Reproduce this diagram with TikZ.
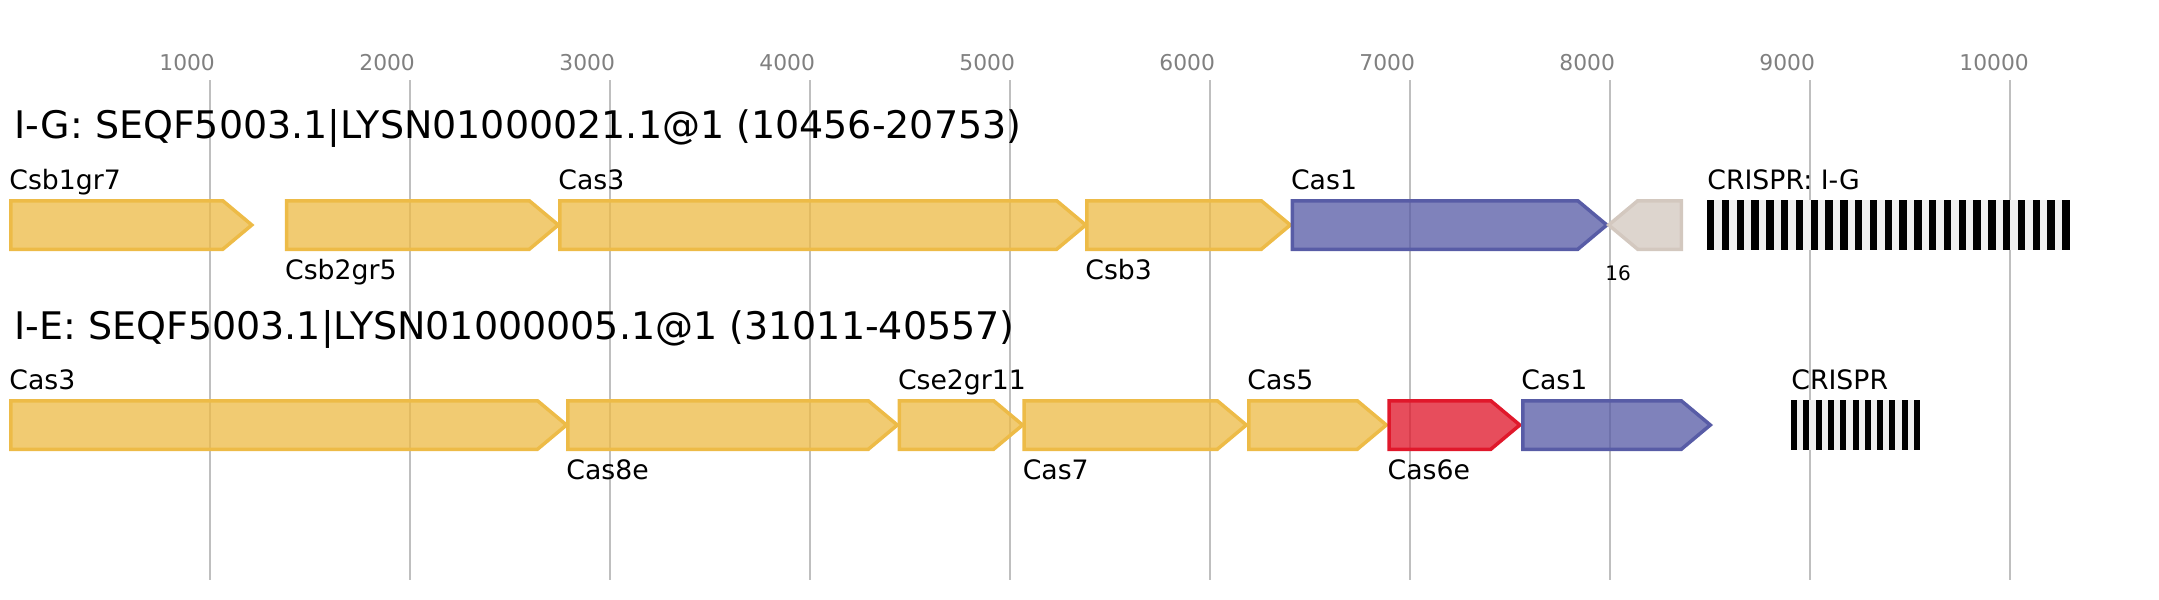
\documentclass[tikz,border=0pt]{standalone}
\usepackage{fontspec}
\setmainfont{DejaVu Sans}
\definecolor{gY}{HTML}{EDBB47}
\definecolor{gB}{HTML}{585CA6}
\definecolor{gR}{HTML}{E0182B}
\definecolor{gG}{HTML}{D3C8BF}
\definecolor{gridc}{HTML}{BFBFBF}
\definecolor{tickc}{HTML}{808080}
\definecolor{spacerc}{HTML}{EFEFEF}
\tikzset{
  gene/.style={draw=#1, fill=#1, fill opacity=0.77, line width=1.75pt, line join=miter},
  gridline/.style={draw=gridc, line width=1pt},
  ticklab/.style={anchor=base west, inner sep=0pt, text=tickc, font=\fontsize{10.9}{12}\selectfont},
  titlelab/.style={anchor=base west, inner sep=0pt, font=\fontsize{19}{22}\selectfont},
  genelab/.style={anchor=base west, inner sep=0pt, font=\fontsize{13.35}{15}\selectfont},
  smalllab/.style={anchor=base west, inner sep=0pt, font=\fontsize{10}{12}\selectfont},
}
% forward gene: outer left, outer tip, row offset, colour
\newcommand{\fgene}[4]{%
  \pgfmathsetmacro\gl{#1+1.75}%
  \pgfmathsetmacro\gt{#2-2.7}%
  \pgfmathsetmacro\gs{\gt-29}%
  \pgfmathsetmacro\ya{200.75+#3}%
  \pgfmathsetmacro\yb{225+#3}%
  \pgfmathsetmacro\yc{249.25+#3}%
  \draw[gene=#4] (\gl,\ya) -- (\gs,\ya) -- (\gt,\yb) -- (\gs,\yc) -- (\gl,\yc) -- cycle;
}
% reverse gene: outer tip (left), outer right, row offset, colour
\newcommand{\rgene}[4]{%
  \pgfmathsetmacro\gt{#1+2.7}%
  \pgfmathsetmacro\gs{\gt+29}%
  \pgfmathsetmacro\gr{#2-1.75}%
  \pgfmathsetmacro\ya{200.75+#3}%
  \pgfmathsetmacro\yb{225+#3}%
  \pgfmathsetmacro\yc{249.25+#3}%
  \draw[gene=#4] (\gr,\ya) -- (\gs,\ya) -- (\gt,\yb) -- (\gs,\yc) -- (\gr,\yc) -- cycle;
}
% CRISPR array: first x, number of repeats, spacing, bar width, row offset
\newcommand{\crisprarr}[5]{%
  \pgfmathsetmacro\xe{#1+(#2-1)*#3+#4}%
  \fill[spacerc] (#1,{200+#5}) rectangle (\xe,{250+#5});
  \foreach \k in {1,...,#2}{%
    \fill[black] ({#1+(\k-1)*#3},{200+#5}) rectangle ({#1+(\k-1)*#3+#4},{250+#5});
  }
}
\begin{document}
\begin{tikzpicture}[x=0.5pt,y=-0.5pt]
\useasboundingbox (0,0) rectangle (2159,600);
% grid and scale
\foreach \i in {1,...,10}{
  \draw[gridline] ({10+200*\i},80) -- ({10+200*\i},580);
  \node[ticklab] (tick\i) at ({10+200*\i-51},70) {\i000};
}
% titles
\node[titlelab] (title1) at (14,138.5) {I-G: SEQF5003.1|LYSN01000021.1@1 (10456-20753)};
\node[titlelab] (title2) at (14,339) {I-E: SEQF5003.1|LYSN01000005.1@1 (31011-40557)};
% row 1
\fgene{9}{254.5}{0}{gY}
\fgene{284.8}{561}{0}{gY}
\fgene{558}{1088.4}{0}{gY}
\fgene{1085}{1293}{0}{gY}
\fgene{1290.7}{1609.5}{0}{gB}
\rgene{1606}{1683}{0}{gG}
\crisprarr{1707}{25}{14.8}{7.4}{0}
\node[genelab] (l1a) at (9,189.5) {Csb1gr7};
\node[genelab] (l1b) at (284.8,279.5) {Csb2gr5};
\node[genelab] (l1c) at (558,189.5) {Cas3};
\node[genelab] (l1d) at (1085,279.5) {Csb3};
\node[genelab] (l1e) at (1290.7,189.5) {Cas1};
\node[smalllab] (l1f) at (1605,280) {16};
\node[genelab] (l1g) at (1707,189.5) {CRISPR: I-G};
% row 2
\fgene{9}{569.2}{200}{gY}
\fgene{566}{900}{200}{gY}
\fgene{897.6}{1025.3}{200}{gY}
\fgene{1022.4}{1249}{200}{gY}
\fgene{1247}{1389}{200}{gY}
\fgene{1387.3}{1522.5}{200}{gR}
\fgene{1521}{1713}{200}{gB}
\crisprarr{1791}{11}{12.3}{6}{200}
\node[genelab] (l2a) at (9,389.5) {Cas3};
\node[genelab] (l2b) at (566,479.5) {Cas8e};
\node[genelab] (l2c) at (897.6,389.5) {Cse2gr11};
\node[genelab] (l2d) at (1022.4,479.5) {Cas7};
\node[genelab] (l2e) at (1247,389.5) {Cas5};
\node[genelab] (l2f) at (1387.3,479.5) {Cas6e};
\node[genelab] (l2g) at (1521,389.5) {Cas1};
\node[genelab] (l2h) at (1791,389.5) {CRISPR};
\end{tikzpicture}
\end{document}
